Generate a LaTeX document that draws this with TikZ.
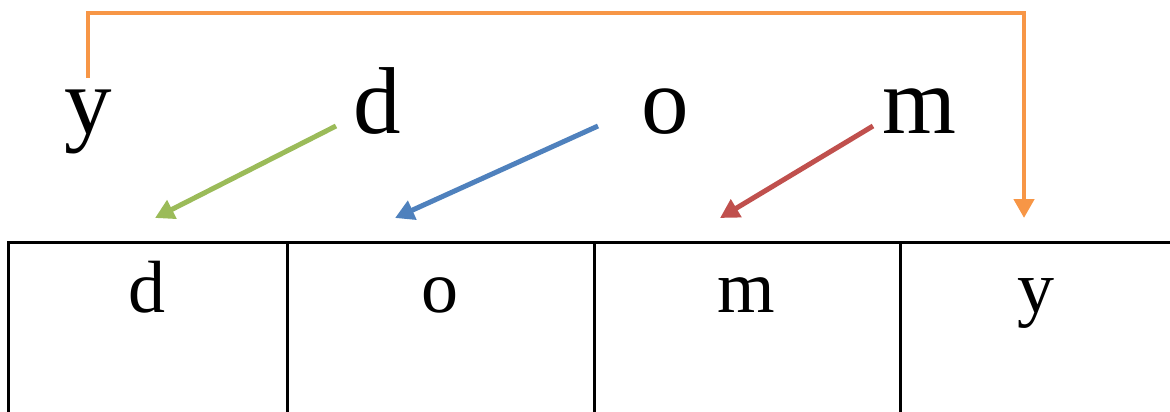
\documentclass[tikz,border=0pt]{standalone}
\usepackage{fontspec}
\setmainfont{Liberation Serif}
\usetikzlibrary{arrows.meta}
\definecolor{ora}{HTML}{F79646}
\definecolor{grn}{HTML}{9BBB59}
\definecolor{blu}{HTML}{4F81BD}
\definecolor{rd}{HTML}{C0504D}
\tikzset{
  bigletter/.style={inner sep=0pt, anchor=base, font=\fontsize{95}{95}\selectfont},
  cellletter/.style={inner sep=0pt, anchor=base, font=\fontsize{74}{74}\selectfont},
  gridline/.style={line width=3pt, black},
  moveline/.style={line width=5pt, -{Triangle[width=20pt,length=19pt]}},
}
\begin{document}
\begin{tikzpicture}[x=1pt,y=-1pt]
\useasboundingbox (0,0) rectangle (1170,412);
% top letters
\node[bigletter] (ty) at (88,133) {y};
\node[bigletter] (td) at (377,133) {d};
\node[bigletter] (to) at (665,133) {o};
\node[bigletter] (tm) at (919,133) {m};
% table
\draw[gridline] (8,412) -- (8,242) -- (1170,242);
\draw[gridline] (287,242) -- (287,412);
\draw[gridline] (594,242) -- (594,412);
\draw[gridline] (900,242) -- (900,412);
\node[cellletter] (cd) at (147,312) {d};
\node[cellletter] (co) at (440,312) {o};
\node[cellletter] (cm) at (746,312) {m};
\node[cellletter] (cy) at (1036,312) {y};
% arrow end points
\coordinate (ys) at (88,78);
\coordinate (ye) at (1024,218);
\coordinate (ds) at (336,126);
\coordinate (de) at (155,218);
\coordinate (os) at (598,126);
\coordinate (oe) at (395,218);
\coordinate (ms) at (873,126);
\coordinate (me) at (720,218);
% arrows
\draw[moveline, ora, line width=4.5pt] (ys) -- (ys |- 0,13) -- (ye |- 0,13) -- (ye);
\draw[moveline, grn] (ds) -- (de);
\draw[moveline, blu] (os) -- (oe);
\draw[moveline, rd] (ms) -- (me);
\end{tikzpicture}
\end{document}
